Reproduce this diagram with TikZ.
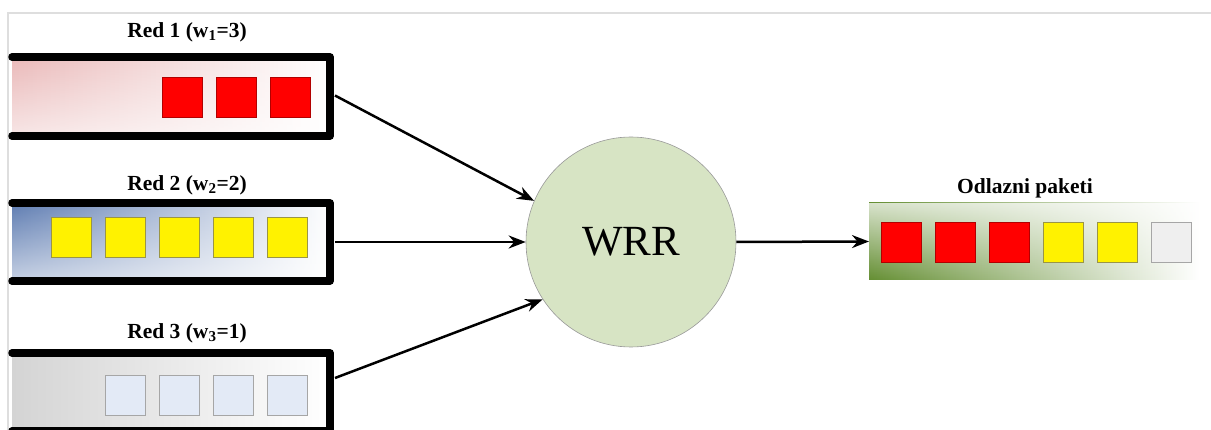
\documentclass[tikz,border=0pt]{standalone}
\usepackage{fontspec}
\setmainfont{Liberation Serif}
\usetikzlibrary{arrows.meta,calc,fadings}
\tikzfading[name=whitebottom, top color=transparent!100, bottom color=transparent!35]
\tikzfading[name=whitetop, top color=transparent!25, bottom color=transparent!100]
\definecolor{pinkq}{RGB}{234,185,185}
\definecolor{blueq}{RGB}{95,125,178}
\definecolor{grayq}{RGB}{212,212,212}
\definecolor{greenq}{RGB}{100,142,50}
\definecolor{wrrfill}{RGB}{215,228,196}
\definecolor{paleblue}{RGB}{227,234,246}
\definecolor{palegray}{RGB}{239,239,239}
\definecolor{framegray}{RGB}{222,222,222}
\begin{document}
\begin{tikzpicture}[x=1pt,y=-1pt,
  qbar/.style={line width=7.5pt, line cap=round, line join=round},
  qarea/.style={minimum width=318pt, inner sep=0pt, outer sep=0pt, anchor=north west},
  pkt/.style={minimum size=40pt, inner sep=0pt, line width=0.8pt},
  redpkt/.style={pkt, fill=red, draw=red!70!black},
  yelpkt/.style={pkt, fill=yellow, draw=yellow!55!black},
  blupkt/.style={pkt, fill=paleblue, draw=gray!70},
  graypkt/.style={pkt, fill=palegray, draw=gray!70},
  title/.style={font=\bfseries\fontsize{21.5}{25}\selectfont},
  conn/.style={line width=2.5pt, -{Stealth[length=17pt,width=13pt]}}
]
\useasboundingbox (0,0) rectangle (1211,430);
% frame lines
\draw[framegray, line width=1.5pt] (1211,13) -- (8,13) -- (8,430);

% queue areas
\node[qarea, minimum height=79pt, left color=pinkq, middle color=pinkq!50, right color=white] (q1) at (12,57) {};
\fill[white, path fading=whitebottom] (q1.north west) rectangle (q1.south east);
\node[qarea, minimum height=78pt, left color=blueq, middle color=blueq!50, right color=white] (q2) at (12,203) {};
\fill[white, path fading=whitebottom] (q2.north west) rectangle (q2.south east);
\node[qarea, minimum height=78pt, left color=grayq, middle color=grayq!55, right color=white] (q3) at (12,353) {};

% queue brackets
\foreach \q in {q1,q2,q3}
  \draw[qbar] (\q.north west) -- (\q.north east) -- (\q.south east) -- (\q.south west);

% titles
\node[title] (t1) at (187,32) {Red 1 (w\textsubscript{1}=3)};
\node[title] (t2) at (187,185) {Red 2 (w\textsubscript{2}=2)};
\node[title] (t3) at (187,333) {Red 3 (w\textsubscript{3}=1)};

% packets queue 1
\foreach \x/\n in {182/a,236/b,290/c}
  \node[redpkt] (p1\n) at (\x,97) {};
% packets queue 2
\foreach \x/\n in {71.5/a,125/b,179/c,233/d,287/e}
  \node[yelpkt] (p2\n) at (\x,237) {};
% packets queue 3
\foreach \x/\n in {125/a,179/b,233/c,287/d}
  \node[blupkt] (p3\n) at (\x,395.5) {};

% WRR
\node[circle, minimum size=210pt, inner sep=0pt, fill=wrrfill, draw=gray!80, line width=0.6pt,
      font=\fontsize{43}{48}\selectfont] (wrr) at (631,242) {WRR};

% output
\node[minimum width=331pt, minimum height=77pt, inner sep=0pt, outer sep=0pt, anchor=north west,
      left color=greenq, middle color=greenq!40, right color=white] (out) at (869,203) {};
\fill[white, path fading=whitetop] (out.north west) rectangle (out.south east);
\node[title] (t4) at (1025,188) {Odlazni paketi};
\node[redpkt] (o1) at (901,242) {};
\node[redpkt] (o2) at (955,242) {};
\node[redpkt] (o3) at (1009,242) {};
\node[yelpkt] (o4) at (1063,242) {};
\node[yelpkt] (o5) at (1117,242) {};
\node[graypkt] (o6) at (1171,242) {};

% connectors
\draw[conn] ($(q1.east)+(5,-1)$) -- (wrr.157);
\draw[conn] ($(q2.east)+(5,0)$) -- (wrr.west);
\draw[conn] ($(q3.east)+(5,-14)$) -- (wrr.213);
\draw[conn] (wrr.east) -- (out.west);
\end{tikzpicture}
\end{document}
